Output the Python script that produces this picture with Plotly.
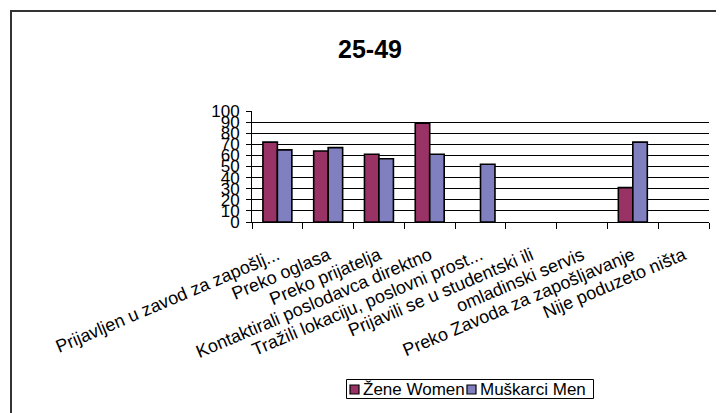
import plotly.graph_objects as go

categories = [
    "Prijavljen u zavod za zapošlj...",
    "Preko oglasa",
    "Preko prijatelja",
    "Kontaktirali poslodavca direktno",
    "Tražili lokaciju, poslovni prost...",
    "Prijavili se u studentski ili",
    "omladinski servis",
    "Preko Zavoda za zapošljavanje",
    "Nije poduzeto ništa",
]
women = [72, 64, 61, 89, None, None, None, 31, None]
men = [65, 67, 57, 61, 52, None, None, 72, None]
y_ticks = [0, 10, 20, 30, 40, 50, 60, 70, 80, 90, 100]
series_names = ["Žene Women", "Muškarci Men"]
series_colors = ["#993366", "#8080C0"]

OFF = 8  # page body margin
W, H = 724, 413
L = 252 - OFF
R = W - (709 - OFF)
T = 111 - OFF
B = H - (222 - OFF)
pw = W - L - R
ph = H - T - B

FONT = "Liberation Sans, Arial, sans-serif"


def px_x(px):
    return (px - OFF - L) / pw


def px_y(py):
    return (H - B - (py - OFF)) / ph


fig = go.Figure()
for vals, name, col in zip([women, men], series_names, series_colors):
    fig.add_trace(go.Bar(x=categories, y=vals, name=name,
                         marker=dict(color=col, line=dict(color="black", width=1.6))))

shapes = [dict(type="rect", xref="paper", yref="paper",
               x0=px_x(11), x1=px_x(770), y0=px_y(450), y1=px_y(11),
               line=dict(color="#333333", width=2), fillcolor="rgba(0,0,0,0)",
               layer="above")]
# legend box
shapes.append(dict(type="rect", xref="paper", yref="paper",
                   x0=px_x(346.5), x1=px_x(593.5), y0=px_y(398.5), y1=px_y(379.5),
                   line=dict(color="black", width=1), fillcolor="white", layer="above"))
annotations = []
leg_items = [(350, 361), (467, 478)]
for (sx, tx), name, col in zip(leg_items, series_names, series_colors):
    shapes.append(dict(type="rect", xref="paper", yref="paper",
                       x0=px_x(sx), x1=px_x(sx + 9), y0=px_y(394), y1=px_y(385),
                       line=dict(color="black", width=1.2), fillcolor=col, layer="above"))
    annotations.append(dict(text=name, xref="paper", yref="paper",
                            x=px_x(tx), y=px_y(389.5), xanchor="left", yanchor="middle",
                            showarrow=False, font=dict(size=17, family=FONT, color="black")))

fig.update_layout(
    width=W, height=H,
    margin=dict(l=L, r=R, t=T, b=B, autoexpand=False),
    paper_bgcolor="white", plot_bgcolor="white",
    font=dict(family=FONT, size=17, color="black"),
    bargap=0.43, bargroupgap=0,
    title=dict(text="<b>25-49</b>", x=(370 - OFF) / W, xanchor="center",
               y=1 - (49 - OFF) / H, yanchor="middle", yref="container",
               font=dict(size=25, family=FONT, color="black")),
    showlegend=False,
    xaxis=dict(type="category", tickangle=-23, tickson="boundaries",
               ticks="outside", ticklen=6, tickcolor="black",
               showline=True, linecolor="black", linewidth=1,
               showgrid=False, automargin=False,
               tickfont=dict(size=18, family=FONT),
               ticklabelstandoff=15),
    yaxis=dict(range=[0, 100], tickvals=y_ticks, ticktext=[str(v) for v in y_ticks],
               ticks="outside", ticklen=5, tickcolor="black",
               showline=True, linecolor="black", linewidth=1,
               showgrid=True, gridcolor="black", gridwidth=1,
               zeroline=False, automargin=False,
               tickfont=dict(size=17, family=FONT), ticklabelstandoff=3),
    shapes=shapes,
    annotations=annotations,
)

fig.write_html("out.html")
